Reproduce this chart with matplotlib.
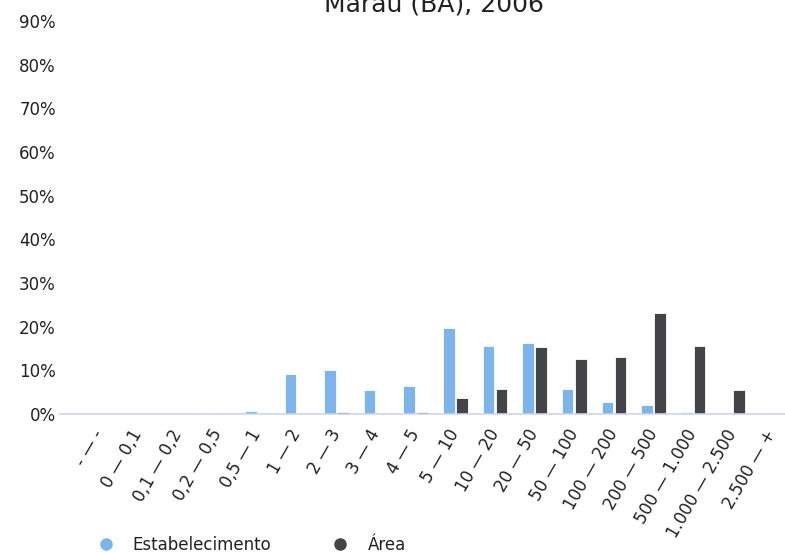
import matplotlib
matplotlib.use("Agg")
import matplotlib.pyplot as plt
import numpy as np
from matplotlib.lines import Line2D

plt.rcParams["font.family"] = ["DejaVu Sans"]

# classes de área (ha)
categorias = ["- — -", "0 — 0,1", "0,1 — 0,2", "0,2 — 0,5", "0,5 — 1", "1 — 2",
              "2 — 3", "3 — 4", "4 — 5", "5 — 10", "10 — 20", "20 — 50",
              "50 — 100", "100 — 200", "200 — 500", "500 — 1.000",
              "1.000 — 2.500", "2.500 — +"]
estabelecimento = [0, 0, 0, 0.15, 0.6, 9.1, 10.1, 5.6, 6.5, 19.6, 15.5, 16.3,
                   5.8, 2.8, 2.0, 0.4, 0, 0]
area = [0, 0, 0, 0, 0, 0, 0.35, 0.2, 0.45, 3.7, 5.8, 15.3, 12.6, 13.0, 23.1,
        15.5, 5.6, 0]
yticks = [0, 10, 20, 30, 40, 50, 60, 70, 80, 90]

azul = "#7cb5ec"
cinza = "#434348"

fig = plt.figure(figsize=(7.85, 5.52), dpi=100)
ax = fig.add_axes([60 / 785, 1 - 414 / 552, 1 - 60 / 785, (414 - 21) / 552])

x = np.arange(len(categorias))
ax.bar(x - 0.165, estabelecimento, width=0.29, color=azul, edgecolor="white", linewidth=0.6)
ax.bar(x + 0.165, area, width=0.29, color=cinza, edgecolor="white", linewidth=0.6)

ax.set_xlim(-0.98, 17.32)
ax.set_ylim(0, 90)
ax.set_yticks(yticks)
ax.set_yticklabels(["{}%".format(v) for v in yticks], fontsize=12, color="#222222")
ax.tick_params(axis="y", length=0, pad=3)

ax.set_xticks(x)
ax.set_xticklabels(categorias, rotation=60, ha="right", va="center",
                   rotation_mode="anchor", fontsize=12, color="#222222")
ax.tick_params(axis="x", length=0, pad=12)

for s in ["top", "right", "left"]:
    ax.spines[s].set_visible(False)
ax.spines["bottom"].set_color("#ccd6eb")
ax.spines["bottom"].set_linewidth(1.2)

fig.text(434 / 785, 1 - 12.5 / 552, "Maraú (BA), 2006", ha="center", va="baseline",
         fontsize=18, color="#222222")

handles = [Line2D([], [], marker="o", linestyle="", color=azul, markersize=8),
           Line2D([], [], marker="o", linestyle="", color=cinza, markersize=8)]
fig.legend(handles, ["Estabelecimento", "Área"], loc="center left",
           bbox_to_anchor=(89 / 785, 1 - 545 / 552), ncol=2, frameon=False,
           fontsize=12, handlelength=1, handletextpad=1.12, columnspacing=3.64,
           borderpad=0, labelcolor="#222222")

fig.savefig("out.png", dpi=100)
